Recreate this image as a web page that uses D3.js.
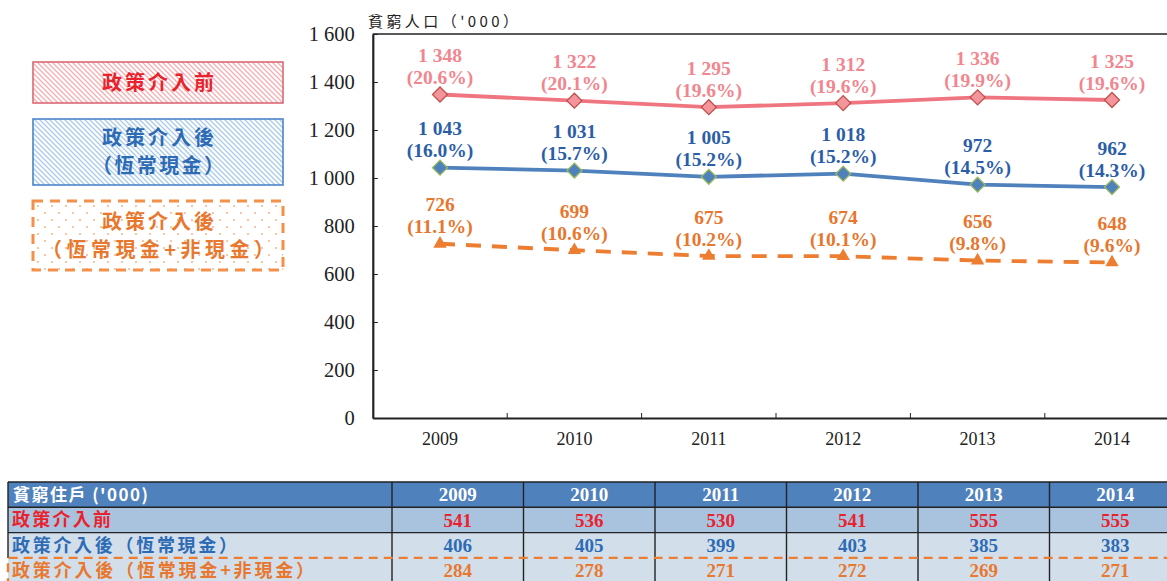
<!DOCTYPE html>
<html><head><meta charset="utf-8">
<script src="https://cdn.jsdelivr.net/npm/d3@7"></script>
<style>
html,body{margin:0;padding:0;background:#fff;}
svg{display:block;}
</style></head>
<body>
<svg id="chart" width="1167" height="581"></svg>
<script>
// ---------------- DATA ----------------
const years = ['2009','2010','2011','2012','2013','2014'];
const beforeVals = [1348,1322,1295,1312,1336,1325];
const beforePct = [20.6,20.1,19.6,19.6,19.9,19.6];
const recurrentVals = [1043,1031,1005,1018,972,962];
const recurrentPct = [16.0,15.7,15.2,15.2,14.5,14.3];
const allVals = [726,699,675,674,656,648];
const allPct = [11.1,10.6,10.2,10.1,9.8,9.6];
const yTicks = [0,200,400,600,800,1000,1200,1400,1600];
const yTitle = "貧窮人口（'000）";
const legendLabels = [["政策介入前"],["政策介入後","（恆常現金）"],["政策介入後","（恆常現金+非現金）"]];
const tableHeader = "貧窮住戶 ('000)";
const tableRowLabels = ["政策介入前","政策介入後（恆常現金）","政策介入後（恆常現金+非現金）"];
const hhBefore = [541,536,530,541,555,555];
const hhRecurrent = [406,405,399,403,385,383];
const hhAll = [284,278,271,272,269,271];

// ---------------- STYLE ----------------
const C = {
  redLine:'#EF7680', redLabel:'#F2858E', redMarker:'#F4949B', redMarkerStroke:'#C0504D',
  blueLine:'#4F81BD', blueLabel:'#2C5EA8', blueMarkerStroke:'#9BBB59',
  orange:'#ED7D31', orangeLabel:'#E8762D',
  axis:'#222'
};
const numFont = "'Liberation Serif','Times New Roman',serif";
const cjkFont = "'Noto Sans CJK TC','Noto Sans CJK SC',sans-serif";

const svg = d3.select('#chart');
const fmt = d3.formatLocale({thousands:' ', grouping:[3], decimal:'.', currency:['','']}).format(',');

// patterns
const defs = svg.append('defs');
function hatch(id, color){
  const p = defs.append('pattern').attr('id',id).attr('patternUnits','userSpaceOnUse')
    .attr('width',5).attr('height',5);
  p.append('path').attr('d','M0,0 L5,5 M-1,4 L1,6 M4,-1 L6,1')
    .attr('stroke',color).attr('stroke-width',1.3);
}
hatch('hatchRed','#F6AEB3');
hatch('hatchBlue','#A9CBEA');
const dots = defs.append('pattern').attr('id','dotsOrange').attr('patternUnits','userSpaceOnUse')
  .attr('width',14).attr('height',14);
dots.append('circle').attr('cx',3).attr('cy',3).attr('r',1).attr('fill','#F6B384');
dots.append('circle').attr('cx',10).attr('cy',10).attr('r',1).attr('fill','#F6B384');

// ---------------- SCALES ----------------
const plot = {left:372.8, right:1179.2, top:34, bottom:418};
const x = d3.scaleBand().domain(years).range([plot.left, plot.right]);
const y = d3.scaleLinear().domain([0,1600]).range([plot.bottom, plot.top]);
const cx = d => x(d) + x.bandwidth()/2;

// top border
svg.append('line').attr('x1',plot.left).attr('x2',plot.right)
  .attr('y1',y(1600)).attr('y2',y(1600)).attr('stroke',C.axis).attr('stroke-width',1.6);

// Y axis
const yAxis = svg.append('g').attr('transform',`translate(${plot.left},0)`)
  .call(d3.axisLeft(y).tickValues(yTicks).tickFormat(fmt).tickSizeInner(-5).tickSizeOuter(0).tickPadding(18));
yAxis.select('.domain').attr('stroke',C.axis).attr('stroke-width',2.2);
yAxis.selectAll('.tick line').attr('stroke',C.axis).attr('stroke-width',1);
yAxis.selectAll('.tick text').attr('font-family',numFont).attr('font-size',20.5).attr('fill','#222');

// X axis
const xAxis = svg.append('g').attr('transform',`translate(0,${plot.bottom})`)
  .call(d3.axisBottom(x).tickSize(0).tickPadding(14));
xAxis.select('.domain').attr('stroke',C.axis).attr('stroke-width',2.2);
xAxis.selectAll('.tick text').attr('font-family',numFont).attr('font-size',18).attr('fill','#222');
svg.append('g').selectAll('line').data(years.slice(1)).join('line')
  .attr('x1',d=>x(d)).attr('x2',d=>x(d)).attr('y1',plot.bottom).attr('y2',plot.bottom-5)
  .attr('stroke',C.axis).attr('stroke-width',1);

// Y title
svg.append('text').attr('x',368).attr('y',27).attr('font-family',cjkFont).attr('font-size',15)
  .attr('fill','#222').attr('textLength',150).attr('lengthAdjust','spacing').text(yTitle);

// ---------------- SERIES ----------------
const series = [
  {vals:beforeVals, pct:beforePct, line:C.redLine, dash:null, label:C.redLabel,
   marker:{type:'diamond', fill:C.redMarker, stroke:C.redMarkerStroke}},
  {vals:recurrentVals, pct:recurrentPct, line:C.blueLine, dash:null, label:C.blueLabel,
   marker:{type:'diamond', fill:C.blueLine, stroke:C.blueMarkerStroke}},
  {vals:allVals, pct:allPct, line:C.orange, dash:'15,11', label:C.orangeLabel,
   marker:{type:'triangle', fill:C.orange, stroke:'none'}}
];
const line = d3.line().x(d=>cx(d.year)).y(d=>y(d.v));
series.forEach(s=>{
  const pts = years.map((yr,i)=>({year:yr, v:s.vals[i], p:s.pct[i]}));
  svg.append('path').datum(pts).attr('d',line).attr('fill','none')
    .attr('stroke',s.line).attr('stroke-width',3.8)
    .attr('stroke-dasharray',s.dash);
  const sym = s.marker.type==='diamond'
    ? d3.symbol().type(d3.symbolSquare).size(112)
    : d3.symbol().type(d3.symbolTriangle).size(78);
  svg.append('g').selectAll('path').data(pts).join('path')
    .attr('d',sym)
    .attr('transform',d=>`translate(${cx(d.year)},${y(d.v)})` + (s.marker.type==='diamond'?' rotate(45)':''))
    .attr('fill',s.marker.fill).attr('stroke',s.marker.stroke).attr('stroke-width',1.3);
  const lg = svg.append('g').attr('font-family',numFont).attr('font-weight','bold')
    .attr('font-size',19.5).attr('fill',s.label).attr('text-anchor','middle');
  lg.selectAll('text.v').data(pts).join('text').attr('class','v')
    .attr('x',d=>cx(d.year)).attr('y',d=>y(d.v)-32.5).text(d=>fmt(d.v));
  lg.selectAll('text.p').data(pts).join('text').attr('class','p')
    .attr('x',d=>cx(d.year)).attr('y',d=>y(d.v)-10.5).text(d=>`(${d.p.toFixed(1)}%)`);
});

// ---------------- LEGEND ----------------
const legendBoxes = [
  {y:62, h:41, fill:'url(#hatchRed)', stroke:'#DB6A73', dash:null, sw:1.6, color:'#E8232D', lens:[112]},
  {y:119, h:66, fill:'url(#hatchBlue)', stroke:'#4A86C8', dash:null, sw:1.6, color:'#2E6BB5', lens:[112,132]},
  {y:201, h:69, fill:'url(#dotsOrange)', stroke:'#F4904A', dash:'10,7', sw:3, color:'#E9782F', lens:[112,232]}
];
legendBoxes.forEach((b,i)=>{
  svg.append('rect').attr('x',33).attr('y',b.y).attr('width',250).attr('height',b.h)
    .attr('fill',b.fill).attr('stroke',b.stroke).attr('stroke-width',b.sw).attr('stroke-dasharray',b.dash);
  const lines = legendLabels[i];
  const lh = 28;
  const startY = b.y + b.h/2 - (lines.length-1)*lh/2;
  lines.forEach((t,j)=>{
    svg.append('text').attr('x',158).attr('y',startY + j*lh).attr('dy','0.36em')
      .attr('text-anchor','middle').attr('font-family',cjkFont).attr('font-weight','bold')
      .attr('font-size',20).attr('fill',b.color)
      .attr('textLength',b.lens[j]).attr('lengthAdjust','spacing').text(t);
  });
});

// ---------------- TABLE ----------------
const tbl = {left:8, firstColRight:392, top:482, rowH:25.3};
const colX = d3.scaleBand().domain(years).range([tbl.firstColRight, tbl.firstColRight + 131.5*6]);
const rows = [
  {label:tableRowLabels[0], vals:hhBefore, bg:'#A9C2DE', color:'#E8232D'},
  {label:tableRowLabels[1], vals:hhRecurrent, bg:'#D2DFEB', color:'#2E6BB5'},
  {label:tableRowLabels[2], vals:hhAll, bg:'#D2DFEB', color:'#E8782F'}
];
const tRight = colX.range()[1];
svg.append('rect').attr('x',tbl.left).attr('y',tbl.top).attr('width',tRight-tbl.left).attr('height',tbl.rowH)
  .attr('fill','#4F81BD');
rows.forEach((r,i)=>{
  svg.append('rect').attr('x',tbl.left).attr('y',tbl.top+(i+1)*tbl.rowH)
    .attr('width',tRight-tbl.left).attr('height',tbl.rowH).attr('fill',r.bg);
});
const gridG = svg.append('g').attr('stroke','#222').attr('stroke-width',1.4);
[0,1,2].forEach(i=>{
  gridG.append('line').attr('x1',tbl.left).attr('x2',tRight)
    .attr('y1',tbl.top+i*tbl.rowH).attr('y2',tbl.top+i*tbl.rowH);
});
gridG.append('line').attr('x1',tbl.left).attr('x2',tbl.left).attr('y1',tbl.top).attr('y2',tbl.top+3*tbl.rowH);
[tbl.firstColRight].concat(years.map(d=>colX(d)+colX.bandwidth())).forEach(xx=>{
  gridG.append('line').attr('x1',xx).attr('x2',xx).attr('y1',tbl.top).attr('y2',tbl.top+4*tbl.rowH);
});
svg.append('path')
  .attr('d',`M${tbl.left},${tbl.top+4*tbl.rowH+4} L${tbl.left},${tbl.top+3*tbl.rowH} L${tRight},${tbl.top+3*tbl.rowH}`)
  .attr('fill','none').attr('stroke','#ED7D31').attr('stroke-width',2.4).attr('stroke-dasharray','9,6');
svg.append('text').attr('x',13).attr('y',tbl.top+tbl.rowH/2).attr('dy','0.36em')
  .attr('font-family',cjkFont).attr('font-weight','bold').attr('font-size',17).attr('fill','#fff')
  .attr('textLength',135).attr('lengthAdjust','spacing').text(tableHeader);
svg.append('g').selectAll('text').data(years).join('text')
  .attr('x',d=>colX(d)+colX.bandwidth()/2).attr('y',tbl.top+tbl.rowH/2).attr('dy','0.36em')
  .attr('text-anchor','middle').attr('font-family',numFont).attr('font-weight','bold')
  .attr('font-size',19).attr('fill','#fff').text(d=>d);
const labelLens = [99,225,302];
rows.forEach((r,i)=>{
  const yy = tbl.top+(i+1)*tbl.rowH + tbl.rowH/2;
  svg.append('text').attr('x',12).attr('y',yy).attr('dy','0.36em')
    .attr('font-family',cjkFont).attr('font-weight','bold').attr('font-size',18).attr('fill',r.color)
    .attr('textLength',labelLens[i]).attr('lengthAdjust','spacing').text(r.label);
  svg.append('g').selectAll('text').data(years).join('text')
    .attr('x',d=>colX(d)+colX.bandwidth()/2).attr('y',yy).attr('dy','0.36em')
    .attr('text-anchor','middle').attr('font-family',numFont).attr('font-weight','bold')
    .attr('font-size',19).attr('fill',r.color).text((d,j)=>r.vals[j]);
});
</script>
</body></html>
